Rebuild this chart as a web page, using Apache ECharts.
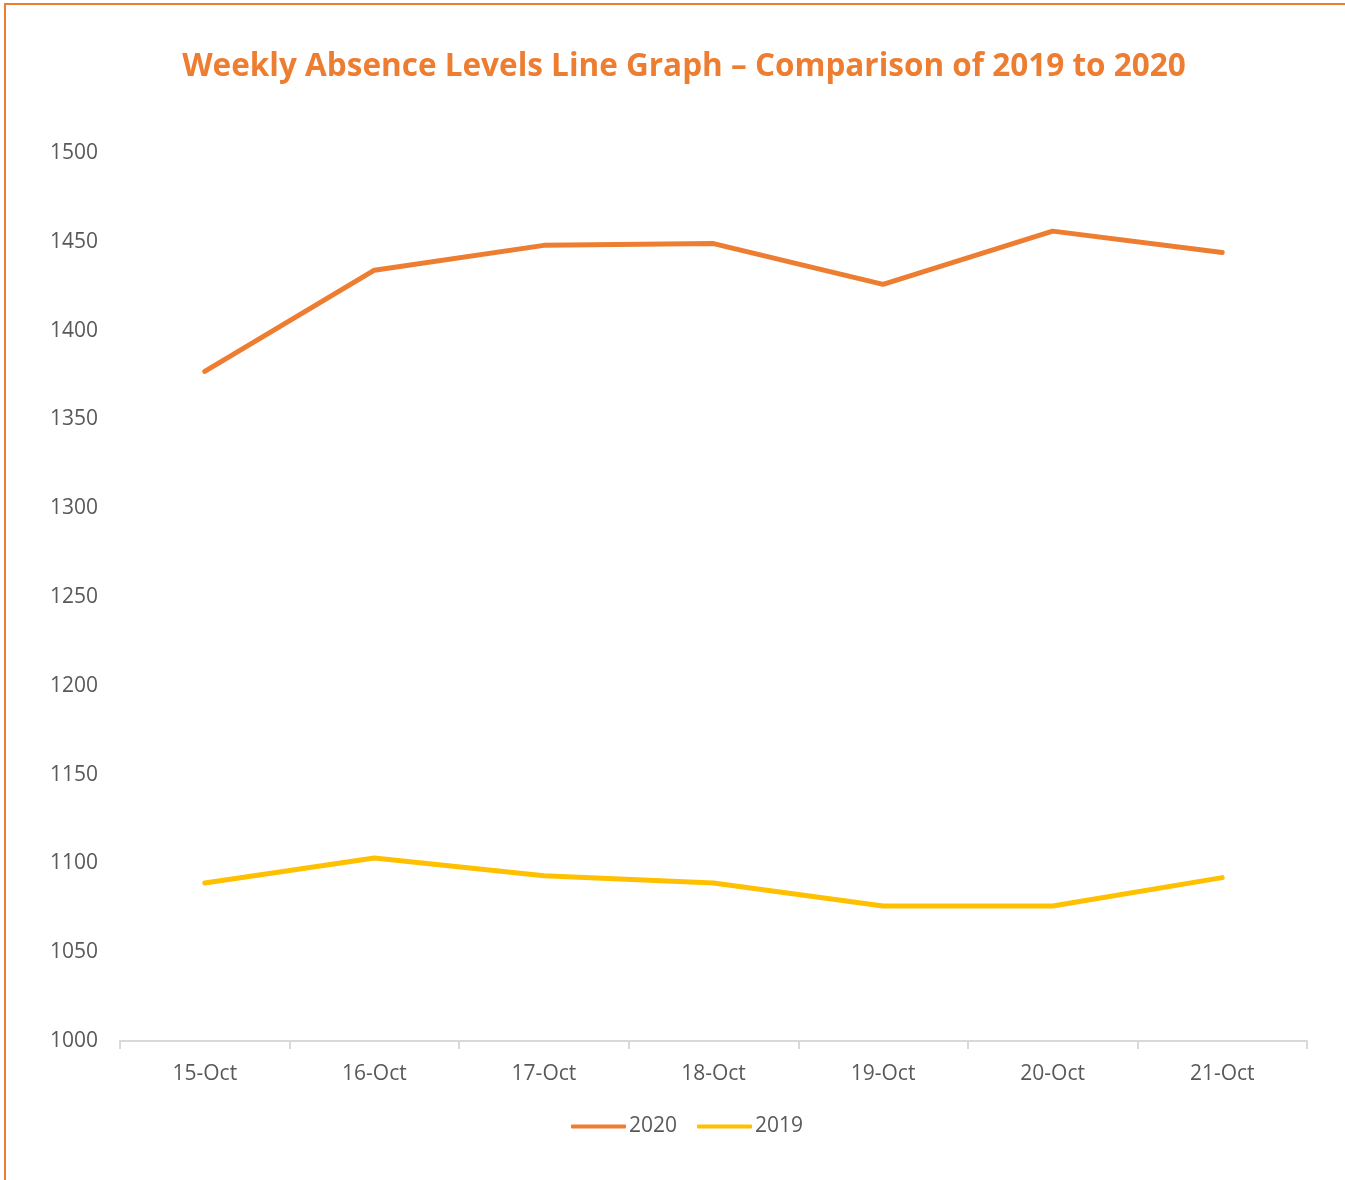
<!DOCTYPE html>
<html>
<head>
<meta charset="utf-8">
<script src="https://cdn.jsdelivr.net/npm/echarts@6/dist/echarts.min.js"></script>
<style>
  html, body { margin: 0; padding: 0; background: #fff; }
  #frame { position: absolute; left: 4px; top: 3px; width: 1400px; height: 1250px;
           border-top: 2px solid #ED7D31; border-left: 2px solid #ED7D31; }
  #chart { position: absolute; left: 0; top: 0; width: 1345px; height: 1180px; }
</style>
</head>
<body>
<div id="frame"></div>
<div id="chart"></div>
<script>
var days = ['15-Oct', '16-Oct', '17-Oct', '18-Oct', '19-Oct', '20-Oct', '21-Oct'];
var absence2020 = [1377, 1434, 1448, 1449, 1426, 1456, 1444];
var absence2019 = [1089, 1103, 1093, 1089, 1076, 1076, 1092];

var font = 'Open Sans';
var chart = echarts.init(document.getElementById('chart'));

var option = {
    backgroundColor: 'transparent',
    title: {
        text: 'Weekly Absence Levels Line Graph \u2013 Comparison of 2019 to 2020',
        left: 679,
        textAlign: 'center',
        top: 46,
        textStyle: { color: '#ED7D31', fontSize: 31.5, fontWeight: 'bold', fontFamily: font }
    },
    legend: {
        bottom: 38,
        left: 566,
        itemWidth: 55,
        itemHeight: 4,
        itemGap: 20,
        icon: 'roundRect',
        textStyle: { color: '#595959', fontSize: 21, fontFamily: font, padding: [0, 0, 0, -2] },
        data: ['2020', '2019']
    },
    grid: { left: 120, right: 38, top: 153, bottom: 139 },
    xAxis: {
        type: 'category',
        data: days,
        boundaryGap: true,
        axisLine: { lineStyle: { color: '#d9d9d9', width: 2 } },
        axisTick: { show: true, length: 8, lineStyle: { color: '#d9d9d9', width: 2 } },
        axisLabel: { color: '#595959', fontSize: 21, fontFamily: font, margin: 23 }
    },
    yAxis: {
        type: 'value',
        min: 1000,
        max: 1500,
        interval: 50,
        axisLine: { show: false },
        axisTick: { show: false },
        splitLine: { show: false },
        axisLabel: {
            color: '#595959', fontSize: 21, fontFamily: font, margin: 22,
            formatter: function (v) { return String(v); }
        }
    },
    series: [
        {
            name: '2020',
            type: 'line',
            data: absence2020,
            symbol: 'none',
            itemStyle: { color: '#ED7D31' },
            lineStyle: { color: '#ED7D31', width: 5, cap: 'round' }
        },
        {
            name: '2019',
            type: 'line',
            data: absence2019,
            symbol: 'none',
            itemStyle: { color: '#FFC000' },
            lineStyle: { color: '#FFC000', width: 5, cap: 'round' }
        }
    ]
};

chart.setOption(option);
</script>
</body>
</html>
